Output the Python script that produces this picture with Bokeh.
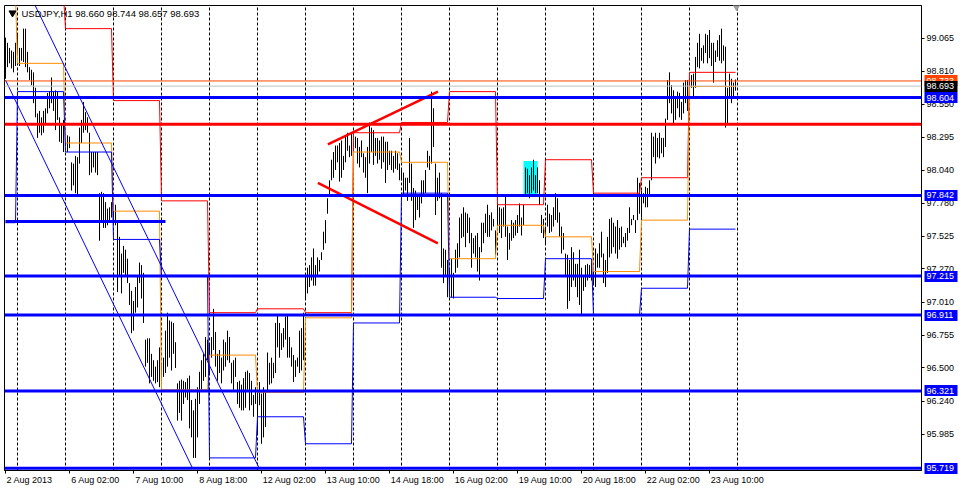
from bokeh.plotting import figure
from bokeh.models import Range1d, FixedTicker, PrintfTickFormatter, Label, Span, LinearAxis
from bokeh.embed import file_html
from bokeh.resources import INLINE

# ---------------- data ----------------
symbol = "USDJPY,H1"
last_ohlc = [98.660, 98.744, 98.657, 98.693]

high = [
    99.07, 99.03, 98.99, 98.97, 98.96, 99.03, 99.10, 98.99, 98.99, 99.14,
    99.14, 98.96, 98.84, 98.82, 98.80, 98.68, 98.48, 98.50, 98.45, 98.50,
    98.52, 98.64, 98.65, 98.76, 98.65, 98.66, 98.65, 98.45, 98.40, 98.43,
    98.29, 98.31, 98.30, 98.10, 98.09, 98.15, 98.14, 98.37, 98.43, 98.57,
    98.49, 98.45, 98.33, 98.18, 98.18, 98.18, 98.18, 97.86, 97.87, 97.86,
    97.79, 97.74, 97.75, 97.79, 97.77, 97.77, 97.65, 97.52, 97.39, 97.45,
    97.42, 97.35, 97.16, 97.10, 97.02, 97.13, 97.21, 97.32, 97.30, 97.24,
    96.72, 96.73, 96.73, 96.61, 96.56, 96.51, 96.56, 96.66, 96.52, 96.58,
    96.79, 96.93, 96.87, 96.86, 96.85, 96.70, 96.38, 96.40, 96.41, 96.40,
    96.39, 96.42, 96.44, 96.25, 96.17, 96.26, 96.35, 96.47, 96.56, 96.61,
    96.74, 96.72, 96.69, 96.74, 96.96, 96.78, 96.61, 96.64, 96.58, 96.72,
    96.70, 96.79, 96.74, 96.54, 96.56, 96.58, 96.39, 96.40, 96.37, 96.42,
    96.47, 96.48, 96.46, 96.40, 96.29, 96.35, 96.33, 96.39, 96.30, 96.35,
    96.31, 96.62, 96.54, 96.58, 96.54, 96.85, 96.91, 96.85, 96.77, 96.81,
    96.90, 96.91, 96.74, 96.66, 96.60, 96.56, 96.58, 96.79, 96.81, 96.93,
    97.21, 97.28, 97.30, 97.36, 97.43, 97.30, 97.36, 97.34, 97.40, 97.56,
    97.65, 97.82, 97.96, 98.12, 98.18, 98.23, 98.23, 98.25, 98.27, 98.15,
    98.31, 98.33, 98.23, 98.33, 98.33, 98.30, 98.29, 98.22, 98.27, 98.17,
    98.14, 98.22, 98.41, 98.37, 98.35, 98.29, 98.29, 98.27, 98.30, 98.30,
    98.26, 98.26, 98.19, 98.19, 98.15, 98.19, 98.17, 98.09, 98.05, 98.02,
    97.98, 97.98, 98.29, 98.09, 97.90, 97.88, 97.84, 97.83, 97.96, 97.96,
    98.04, 98.19, 98.15, 98.65, 98.52, 98.09, 97.98, 98.02, 97.86, 97.43,
    97.42, 97.34, 97.28, 97.35, 97.24, 97.42, 97.47, 97.67, 97.70, 97.75,
    97.71, 97.70, 97.67, 97.55, 97.51, 97.53, 97.55, 97.44, 97.63, 97.63,
    97.70, 97.77, 97.69, 97.71, 97.66, 97.57, 97.77, 97.75, 97.74, 97.75,
    97.83, 97.60, 97.55, 97.65, 97.63, 97.65, 97.69, 97.78, 97.67, 97.77,
    98.06, 98.05, 98.00, 98.06, 98.12, 98.00, 98.06, 97.96, 97.69, 97.66,
    97.60, 97.77, 97.70, 97.69, 97.75, 97.86, 97.82, 97.71, 97.60, 97.55,
    97.39, 97.38, 97.34, 97.44, 97.40, 97.31, 97.31, 97.42, 97.28, 97.21,
    97.30, 97.31, 97.30, 97.32, 97.28, 97.43, 97.39, 97.47, 97.56, 97.39,
    97.34, 97.52, 97.66, 97.67, 97.63, 97.60, 97.65, 97.59, 97.60, 97.52,
    97.55, 97.59, 97.75, 97.66, 97.69, 97.65, 97.98, 97.94, 97.88, 97.86,
    97.91, 97.90, 97.96, 98.33, 98.30, 98.33, 98.29, 98.33, 98.29, 98.29,
    98.44, 98.74, 98.80, 98.70, 98.66, 98.60, 98.65, 98.64, 98.57, 98.72,
    98.74, 98.74, 98.76, 98.78, 98.79, 98.92, 99.03, 99.10, 98.99, 99.01,
    99.10, 99.09, 99.13, 99.03, 99.03, 98.97, 99.05, 99.09, 99.14, 99.01,
    99.00, 98.68, 98.79, 98.75, 98.72, 98.744,
]
low = [
    98.75, 98.84, 98.87, 98.83, 98.80, 98.85, 98.95, 98.85, 98.89, 98.88,
    98.84, 98.80, 98.74, 98.70, 98.56, 98.45, 98.29, 98.33, 98.31, 98.33,
    98.40, 98.48, 98.52, 98.56, 98.50, 98.35, 98.43, 98.26, 98.25, 98.18,
    98.23, 98.18, 98.21, 97.88, 97.92, 97.86, 97.83, 98.09, 98.25, 98.33,
    98.35, 98.33, 98.00, 98.02, 98.06, 98.02, 98.00, 97.49, 97.65, 97.59,
    97.59, 97.61, 97.63, 97.67, 97.67, 97.61, 97.09, 97.21, 97.08, 97.24,
    97.21, 97.16, 96.99, 96.77, 96.79, 96.93, 96.97, 97.16, 97.04, 96.85,
    96.51, 96.54, 96.38, 96.43, 96.40, 96.38, 96.39, 96.35, 96.40, 96.43,
    96.46, 96.51, 96.58, 96.48, 96.61, 96.50, 96.09, 96.15, 96.09, 96.22,
    96.27, 96.25, 96.03, 95.96, 95.80, 95.80, 95.96, 96.22, 96.33, 96.40,
    96.43, 96.56, 96.46, 96.58, 96.64, 96.51, 96.40, 96.46, 96.38, 96.48,
    96.51, 96.56, 96.54, 96.38, 96.33, 96.43, 96.22, 96.19, 96.17, 96.17,
    96.19, 96.33, 96.17, 96.21, 96.12, 96.22, 95.99, 96.21, 95.91, 95.96,
    96.04, 96.31, 96.37, 96.38, 96.42, 96.46, 96.66, 96.58, 96.64, 96.66,
    96.72, 96.58, 96.58, 96.51, 96.39, 96.43, 96.51, 96.46, 96.48, 96.56,
    97.04, 97.08, 97.13, 97.18, 97.14, 97.14, 97.21, 97.25, 97.34, 97.42,
    97.47, 97.70, 97.83, 97.96, 97.98, 98.04, 98.10, 97.95, 97.98, 98.04,
    98.10, 98.19, 98.14, 98.15, 98.22, 98.21, 98.09, 98.06, 98.14, 98.02,
    97.98, 97.86, 98.09, 98.18, 98.08, 98.15, 98.09, 98.12, 98.05, 98.10,
    97.94, 98.04, 98.08, 98.04, 98.02, 98.05, 98.04, 97.96, 97.96, 97.83,
    97.88, 97.80, 97.94, 97.80, 97.59, 97.65, 97.73, 97.67, 97.78, 97.83,
    97.86, 98.06, 98.04, 98.09, 98.22, 97.69, 97.80, 97.82, 97.28, 97.16,
    97.21, 97.05, 97.08, 97.05, 97.04, 97.24, 97.28, 97.36, 97.51, 97.52,
    97.44, 97.55, 97.47, 97.28, 97.39, 97.36, 97.25, 97.18, 97.40, 97.47,
    97.55, 97.52, 97.52, 97.57, 97.60, 97.38, 97.60, 97.55, 97.51, 97.60,
    97.52, 97.34, 97.42, 97.49, 97.51, 97.53, 97.55, 97.60, 97.53, 97.61,
    97.84, 97.86, 97.82, 97.86, 97.88, 97.86, 97.86, 97.77, 97.55, 97.51,
    97.47, 97.60, 97.55, 97.56, 97.60, 97.65, 97.63, 97.52, 97.39, 97.42,
    97.21, 96.96, 97.02, 97.13, 97.18, 97.13, 97.05, 96.99, 96.91, 97.10,
    97.13, 97.18, 97.20, 97.18, 97.16, 97.13, 97.28, 97.28, 97.36, 97.16,
    97.13, 97.24, 97.36, 97.39, 97.44, 97.39, 97.35, 97.42, 97.44, 97.47,
    97.44, 97.49, 97.55, 97.61, 97.65, 97.55, 97.65, 97.70, 97.67, 97.78,
    97.75, 97.75, 97.83, 97.96, 98.14, 98.09, 98.14, 98.13, 98.17, 98.14,
    98.22, 98.43, 98.56, 98.48, 98.40, 98.43, 98.52, 98.45, 98.43, 98.48,
    98.56, 98.50, 98.64, 98.68, 98.61, 98.68, 98.84, 98.83, 98.89, 98.87,
    98.95, 98.87, 98.91, 98.85, 98.72, 98.88, 98.92, 98.89, 98.87, 98.89,
    98.37, 98.40, 98.60, 98.56, 98.61, 98.657,
]

# first bar of each trading day (2 Aug .. 23 Aug), bar 0 = 2 Aug 18:00
day_start_bar = [0, 6, 30, 54, 78, 102, 126, 150, 174, 198, 222, 246, 270, 294, 318, 342]
period_separators = [6, 30, 54, 78, 102, 126, 150, 174, 198, 222, 246, 270, 294, 318, 342, 366]

# daily reference levels (red / orange / blue step lines)
day_red = [None, 99.40, 99.14, 98.58, 97.80, 96.93, 96.96, 96.93, 98.33, 98.41, 98.65, 97.77, 98.12, 97.86, 97.98, 98.80]
day_orange = [99.40, 98.87, 98.25, 97.72, 96.33, 96.60, 96.31, 96.89, 98.18, 98.10, 97.35, 97.61, 97.52, 97.25, 97.65, 98.69]
day_blue = [97.63, 98.65, 98.18, 97.50, 97.22, 95.80, 96.12, 95.91, 96.85, 97.86, 97.05, 97.04, 97.35, 96.91, 97.12, 97.58]

# horizontal levels
blue_levels = [98.604, 97.842, 97.215, 96.911, 96.321, 95.719]
red_level = 98.396
ask_level = 98.733
bid_level = 98.693
short_level = 97.64
short_level_bars = [0, 80]

# trend lines: (bar0, price0, bar1, price1)
channel_lines = [(0.0, 98.74, 93.5, 95.72), (14.85, 99.32, 126.85, 95.72)]
red_trend_lines = [(161.2, 98.24, 216.2, 98.65), (156.2, 97.94, 216.2, 97.47)]

# highlighted zone
zone_bars = [259, 266]
zone_prices = [97.85, 98.11]

# axis ticks
time_tick_bars = [0, 32, 64, 96, 128, 160, 192, 224, 256, 288, 320, 352]
time_tick_labels = ["2 Aug 2013", "6 Aug 02:00", "7 Aug 10:00", "8 Aug 18:00", "12 Aug 02:00",
                    "13 Aug 10:00", "14 Aug 18:00", "16 Aug 02:00", "19 Aug 10:00",
                    "20 Aug 18:00", "22 Aug 02:00", "23 Aug 10:00"]
price_ticks = [99.065, 98.810, 98.550, 98.295, 98.040, 97.780, 97.525, 97.270,
               97.010, 96.755, 96.500, 96.240, 95.985]

# ---------------- figure ----------------
FONT = "Liberation Sans"
AX_PX = 9
X0, X1 = -0.5, 458.0
Y0, Y1 = 95.702, 99.320
n = len(high)
assert len(low) == n

p = figure(width=962, height=490, x_range=Range1d(X0, X1), y_range=Range1d(Y0, Y1),
           output_backend="svg", toolbar_location=None, y_axis_location="right",
           min_border_left=4, min_border_top=5, min_border_right=41, min_border_bottom=20)
p.background_fill_color = "white"
p.border_fill_color = "white"
p.outline_line_color = "black"
p.outline_line_width = 1

# period separators
p.ygrid.visible = False
p.xgrid.ticker = FixedTicker(ticks=period_separators)
p.xgrid.grid_line_color = "black"
p.xgrid.grid_line_dash = "3 2"
p.xgrid.grid_line_width = 1

def style_axis(ax):
    ax.axis_line_color = "black"
    ax.major_tick_line_color = "black"
    ax.major_tick_in = 0
    ax.major_tick_out = 3
    ax.minor_tick_line_color = None
    ax.minor_tick_in = 0
    ax.minor_tick_out = 0
    ax.major_label_standoff = 2
    ax.major_label_text_font = FONT
    ax.major_label_text_font_size = f"{AX_PX}px"
    ax.major_label_text_color = "black"

# time axis: tick marks at the bars (first axis), label text starting at each tick (second axis)
xa = p.xaxis[0]
style_axis(xa)
xa.ticker = FixedTicker(ticks=time_tick_bars, minor_ticks=[])
xa.major_label_overrides = {b: "" for b in time_tick_bars}
xa.major_label_text_font_size = "1px"
xa.major_label_standoff = 0

CHAR_W = {" ": 278, ":": 278, "A": 667, "u": 556, "g": 556}
def text_px(s):
    return sum(CHAR_W.get(c, 556) for c in s) * AX_PX / 1000.0

label_pos = [b + round((text_px(t) / 2 + 1) / 2) for b, t in zip(time_tick_bars, time_tick_labels)]
xlab = LinearAxis(ticker=FixedTicker(ticks=label_pos, minor_ticks=[]),
                  major_label_overrides={b: t for b, t in zip(label_pos, time_tick_labels)})
style_axis(xlab)
xlab.axis_line_color = None
xlab.major_tick_line_color = None
xlab.major_tick_out = 0
xlab.major_label_standoff = 1
p.add_layout(xlab, "below")

# price axis
ya = p.yaxis[0]
style_axis(ya)
ya.ticker = FixedTicker(ticks=price_ticks, minor_ticks=[])
ya.formatter = PrintfTickFormatter(format="%.3f")

# highlighted zone
p.quad(left=[zone_bars[0]], right=[zone_bars[1]], bottom=[zone_prices[0]], top=[zone_prices[1]],
       fill_color="#00FFFF", line_color=None)

# price bars
idx = list(range(n))
p.segment(x0=idx, y0=low, x1=idx, y1=high, line_color="black", line_width=1)

# daily step lines
def step_xy(vals):
    xs, ys = [], []
    for k, v in enumerate(vals):
        if v is None:
            continue
        s = day_start_bar[k]
        e = day_start_bar[k + 1] - 1 if k + 1 < len(day_start_bar) else n - 1
        xs += [s, e]
        ys += [v, v]
    return xs, ys

for vals, col in ((day_red, "#FF0000"), (day_orange, "#FF8C00"), (day_blue, "#0000FF")):
    xs, ys = step_xy(vals)
    p.line(xs, ys, line_color=col, line_width=1)

for b0, v0, b1, v1 in channel_lines:
    p.line([b0, b1], [v0, v1], line_color="#0000FF", line_width=1)
for b0, v0, b1, v1 in red_trend_lines:
    p.line([b0, b1], [v0, v1], line_color="#FF0000", line_width=2.5)

p.line(short_level_bars, [short_level, short_level], line_color="#0000FF", line_width=3)

# full-width levels
p.add_layout(Span(location=ask_level, dimension="width", line_color="#FF4500", line_width=1))
p.add_layout(Span(location=bid_level, dimension="width", line_color="#C0C0C0", line_width=1))
p.add_layout(Span(location=red_level, dimension="width", line_color="#FF0000", line_width=3))
for lv in blue_levels:
    p.add_layout(Span(location=lv, dimension="width", line_color="#0000FF", line_width=3))

# shift marker and header
p.scatter(x=[n - 0.5], y=[Y1], marker="inverted_triangle", size=9, color="#A0A0A0")
p.scatter(x=[3.5], y=[Y1 - 0.058], marker="inverted_triangle", size=7, color="black")
header = symbol + "  " + " ".join(f"{v:.3f}" for v in last_ohlc)
p.add_layout(Label(x=8.0, y=Y1 - 0.062, text=header, text_font=FONT, text_font_size="9.5px",
                   text_color="black", text_baseline="middle", text_align="left"))

# price boxes on the right scale: extra axes stacked after the price axis,
# whose wide inward ticks form the coloured boxes and whose labels sit inside them
def level_axis(levels, color):
    ax = LinearAxis(ticker=FixedTicker(ticks=levels, minor_ticks=[]),
                    formatter=PrintfTickFormatter(format="%.3f"))
    ax.axis_line_color = None
    ax.minor_tick_line_color = None
    ax.minor_tick_in = 0
    ax.minor_tick_out = 0
    ax.major_tick_line_color = color
    ax.major_tick_line_width = 11
    ax.major_tick_in = 33
    ax.major_tick_out = 0
    ax.major_label_standoff = -31
    ax.major_label_text_color = "white"
    ax.major_label_text_font = FONT
    ax.major_label_text_font_size = f"{AX_PX}px"
    p.add_layout(ax, "right")

level_axis([ask_level], "#FF4500")
level_axis([bid_level], "black")
level_axis(blue_levels, "#0000FF")

open("out.html", "w").write(file_html(p, INLINE))
